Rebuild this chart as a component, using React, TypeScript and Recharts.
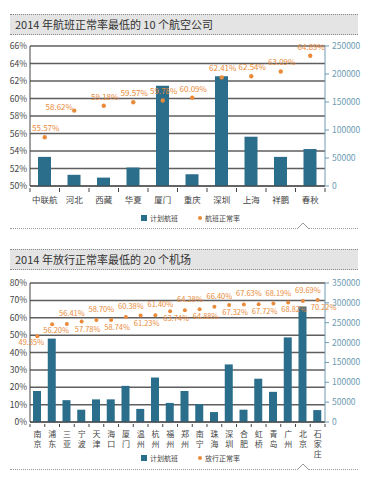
import React from "react";
import { ComposedChart, Bar, Line, XAxis, YAxis, CartesianGrid } from "recharts";

// 2014 航空公司
const airlines = ["中联航", "河北", "西藏", "华夏", "厦门", "重庆", "深圳", "上海", "祥鹏", "春秋"];
const airlinePlanned = [52000, 20000, 15000, 33000, 179000, 21000, 196000, 88000, 52000, 66000];
const airlineRate = [55.57, 58.62, 59.18, 59.57, 59.78, 60.09, 62.41, 62.54, 63.09, 64.89];
const airlineLeftTicks = [50, 52, 54, 56, 58, 60, 62, 64, 66];
const airlineRightTicks = [0, 50000, 100000, 150000, 200000, 250000];

// 2014 机场
const airports = [
  "南京", "浦东", "三亚", "宁波", "天津", "海口", "厦门", "温州", "杭州", "福州",
  "郑州", "南宁", "珠海", "深圳", "合肥", "虹桥", "青岛", "广州", "北京", "石家庄",
];
const airportPlanned = [
  78000, 210000, 55000, 31000, 57000, 57000, 91000, 33000, 112000, 48000,
  78000, 45000, 25000, 145000, 31000, 109000, 76000, 213000, 291000, 30000,
];
const airportRate = [
  49.35, 56.2, 56.41, 57.78, 58.7, 58.74, 60.38, 61.23, 61.4, 63.74,
  64.28, 64.88, 66.4, 67.32, 67.63, 67.72, 68.19, 68.82, 69.69, 70.22,
];
const airportLeftTicks = [0, 10, 20, 30, 40, 50, 60, 70, 80];
const airportRightTicks = [0, 50000, 100000, 150000, 200000, 250000, 300000, 350000];

const airlineData = airlines.map((name, i) => ({ name, planned: airlinePlanned[i], rate: airlineRate[i] }));
const airportData = airports.map((name, i) => ({ name, planned: airportPlanned[i], rate: airportRate[i] }));

const BAR = "#2a6e8b";
const ORANGE = "#e98b3a";
const GRID = "#5e5e5e";
const RIGHT = "#6e9bb2";
const FONT = '"Noto Sans CJK SC", "Noto Sans", sans-serif';
const PLOT_W = 295;

function airlineDot(props: any) {
  const { cx, cy, index, payload } = props;
  const dx = index === 1 ? -15 : 1;
  const dy = index === 1 ? -1 : -6;
  return (
    <g key={"d" + index}>
      <circle cx={cx} cy={cy} r={2.2} fill={ORANGE} />
      <text x={cx + dx} y={cy + dy} textAnchor="middle" fontSize={8} fill={ORANGE} fontFamily={FONT}>
        {payload.rate.toFixed(2)}%
      </text>
    </g>
  );
}

function airportDot(props: any) {
  const { cx, cy, index, payload } = props;
  let dx = 5;
  let dy = -8;
  if (index === 0) { dx = -6; dy = 9; }
  else if (index === 1) { dx = 4; dy = 9; }
  else if (index % 2 === 1) { dx = 6; dy = 10; }
  return (
    <g key={"d" + index}>
      <circle cx={cx} cy={cy} r={2} fill={ORANGE} />
      <text x={cx + dx} y={cy + dy} textAnchor="middle" fontSize={7.5} fill={ORANGE} fontFamily={FONT}>
        {payload.rate.toFixed(2)}%
      </text>
    </g>
  );
}

function AirlineTick(props: any) {
  const { x, y, payload, index } = props;
  const bw = PLOT_W / airlines.length;
  return (
    <g>
      <line x1={x - bw / 2} x2={x - bw / 2} y1={y} y2={y + 4} stroke="#444" />
      {index === airlines.length - 1 && <line x1={x + bw / 2} x2={x + bw / 2} y1={y} y2={y + 4} stroke="#444" />}
      <text x={x} y={y + 15} textAnchor="middle" fontSize={8.5} fill="#444" fontFamily={FONT}>
        {payload.value}
      </text>
    </g>
  );
}

function AirportTick(props: any) {
  const { x, y, payload, index } = props;
  const bw = PLOT_W / airports.length;
  const chars = String(payload.value).split("");
  return (
    <g>
      <line x1={x - bw / 2} x2={x - bw / 2} y1={y} y2={y + 3} stroke="#444" />
      {index === airports.length - 1 && <line x1={x + bw / 2} x2={x + bw / 2} y1={y} y2={y + 3} stroke="#444" />}
      {chars.map((c, i) => (
        <text key={i} x={x} y={y + 13 + i * 10} textAnchor="middle" fontSize={8} fill="#444" fontFamily={FONT}>
          {c}
        </text>
      ))}
    </g>
  );
}

function TitleBand({ top, height, text }: { top: number; height: number; text: string }) {
  return (
    <div
      style={{
        position: "absolute", left: 10, top, width: 348, height, background: "#e4e4e4",
        borderTop: "1px dotted #888", borderBottom: "1px dotted #888", boxSizing: "border-box",
        fontFamily: FONT, fontSize: 11, color: "#333", lineHeight: height - 2 + "px", paddingLeft: 5,
      }}
    >
      {text}
    </div>
  );
}

function Footer({ top }: { top: number }) {
  return (
    <>
      <div style={{ position: "absolute", left: 10, top, width: 348, borderTop: "1px dotted #999" }} />
      <svg style={{ position: "absolute", left: 297, top: top - 5 }} width={12} height={6}>
        <polyline points="0,6 6,0 12,6" fill="#fff" stroke="#999" />
      </svg>
    </>
  );
}

function LegendRow({ top, second }: { top: number; second: string }) {
  const txt = { position: "absolute" as const, top: top - 5, fontSize: 7, color: "#444", fontFamily: FONT, lineHeight: "10px" };
  return (
    <>
      <div style={{ position: "absolute", left: 141, top: top - 3, width: 6, height: 6, background: BAR }} />
      <div style={{ ...txt, left: 150 }}>计划航班</div>
      <div style={{ position: "absolute", left: 198, top: top - 2, width: 4, height: 4, borderRadius: 2, background: ORANGE }} />
      <div style={{ ...txt, left: 205 }}>{second}</div>
    </>
  );
}

export default function App() {
  return (
    <div style={{ position: "absolute", left: 0, top: 0, width: 377, height: 480, background: "#fff" }}>
      <TitleBand top={14} height={21} text="2014 年航班正常率最低的 10 个航空公司" />
      <div style={{ position: "absolute", left: 0, top: 36 }}>
        <ComposedChart width={377} height={180} data={airlineData} margin={{ top: 10, right: 0, bottom: 10, left: 0 }}>
          <CartesianGrid yAxisId="left" vertical={false} stroke={GRID} strokeWidth={1.5} />
          <XAxis dataKey="name" axisLine={{ stroke: "#444" }} tickLine={false} tickSize={0} height={20} interval={0} tick={<AirlineTick />} />
          <YAxis
            yAxisId="left" domain={[50, 66]} ticks={airlineLeftTicks} width={30} tickSize={0} tickMargin={3}
            axisLine={{ stroke: "#444" }} tickLine={false} tickFormatter={(v) => v + "%"}
            tick={{ fontSize: 8.5, fill: "#444", fontFamily: FONT }} interval={0}
          />
          <YAxis
            yAxisId="right" orientation="right" domain={[0, 250000]} ticks={airlineRightTicks} width={52}
            tickSize={4} tickMargin={3} axisLine={{ stroke: RIGHT }} tickLine={{ stroke: RIGHT }}
            tick={{ fontSize: 8.5, fill: RIGHT, fontFamily: FONT, textAnchor: "start" }} interval={0}
          />
          <Bar yAxisId="right" dataKey="planned" fill={BAR} barSize={13} isAnimationActive={false} />
          <Line yAxisId="left" dataKey="rate" stroke="none" dot={airlineDot} activeDot={false} isAnimationActive={false} />
        </ComposedChart>
      </div>
      <LegendRow top={218} second="航班正常率" />
      <Footer top={228} />

      <TitleBand top={249} height={21} text="2014 年放行正常率最低的 20 个机场" />
      <div style={{ position: "absolute", left: 0, top: 273 }}>
        <ComposedChart width={377} height={186} data={airportData} margin={{ top: 10, right: 0, bottom: 0, left: 0 }}>
          <CartesianGrid yAxisId="left" vertical={false} stroke={GRID} strokeWidth={1.5} />
          <XAxis dataKey="name" axisLine={{ stroke: "#444" }} tickLine={false} tickSize={0} height={37} interval={0} tick={<AirportTick />} />
          <YAxis
            yAxisId="left" domain={[0, 80]} ticks={airportLeftTicks} width={30} tickSize={0} tickMargin={3}
            axisLine={{ stroke: "#444" }} tickLine={false} tickFormatter={(v) => v + "%"}
            tick={{ fontSize: 8.5, fill: "#444", fontFamily: FONT }} interval={0}
          />
          <YAxis
            yAxisId="right" orientation="right" domain={[0, 350000]} ticks={airportRightTicks} width={52}
            tickSize={4} tickMargin={3} axisLine={{ stroke: RIGHT }} tickLine={{ stroke: RIGHT }}
            tick={{ fontSize: 8.5, fill: RIGHT, fontFamily: FONT, textAnchor: "start" }} interval={0}
          />
          <Bar yAxisId="right" dataKey="planned" fill={BAR} barSize={8} isAnimationActive={false} />
          <Line yAxisId="left" dataKey="rate" stroke="none" dot={airportDot} activeDot={false} isAnimationActive={false} />
        </ComposedChart>
      </div>
      <LegendRow top={458} second="放行正常率" />
      <Footer top={469} />
    </div>
  );
}
